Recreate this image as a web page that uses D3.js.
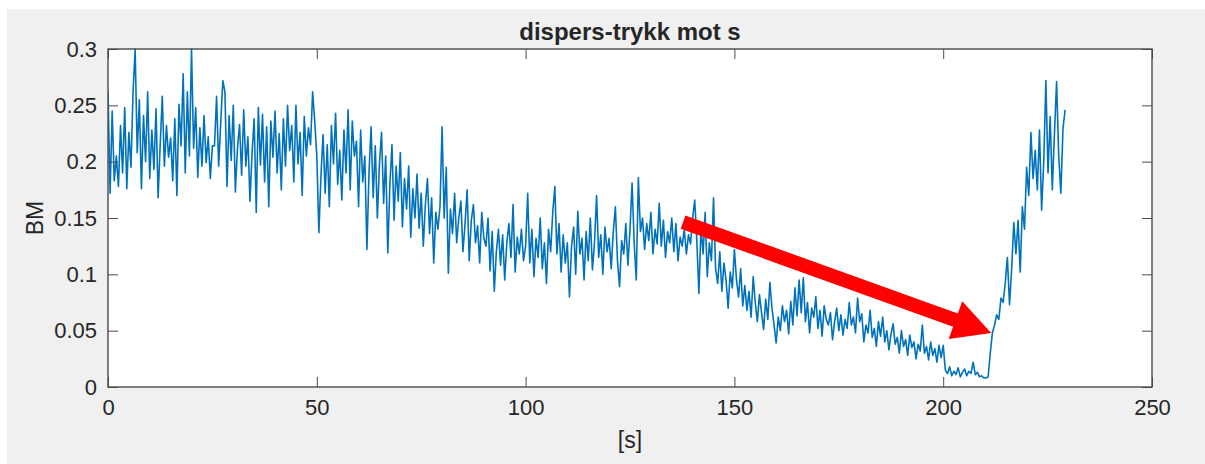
<!DOCTYPE html>
<html>
<head>
<meta charset="utf-8">
<script src="https://cdn.jsdelivr.net/npm/d3@7"></script>
<style>
	html, body { margin: 0; padding: 0; background: #ffffff; }
	svg { display: block; }
	text { font-family: "Liberation Sans", Arial, Helvetica, sans-serif; fill: #262626; }
</style>
</head>
<body>
<svg id="chart" width="1205" height="464"></svg>
<script>
/* ---------------- data ---------------- */

const xTicks = [0, 50, 100, 150, 200, 250];
const yTicks = [0, 0.05, 0.1, 0.15, 0.2, 0.25, 0.3];
const yTickLabels = ["0", "0.05", "0.1", "0.15", "0.2", "0.25", "0.3"];

// BM samples, one block per time span
const segStart = [0, 50, 100, 150, 200];
const segEnd = [49.5, 99.5, 149.5, 199.5, 229.2];

const bmA = [
	0.262,0.172,0.245,0.183,0.205,0.178,0.232,0.190,0.248,0.176,
	0.226,0.195,0.262,0.300,0.208,0.255,0.176,0.241,0.200,0.262,
	0.185,0.228,0.193,0.247,0.168,0.215,0.258,0.196,0.232,0.204,
	0.221,0.183,0.238,0.170,0.251,0.214,0.278,0.190,0.262,0.205,
	0.300,0.212,0.248,0.186,0.230,0.196,0.241,0.199,0.222,0.185,
	0.214,0.214,0.258,0.196,0.235,0.272,0.262,0.178,0.241,0.201,
	0.250,0.173,0.212,0.233,0.188,0.246,0.196,0.222,0.165,0.208,
	0.238,0.155,0.248,0.197,0.242,0.182,0.231,0.160,0.236,0.204,
	0.245,0.190,0.225,0.175,0.238,0.196,0.250,0.210,0.232,0.182,
	0.250,0.198,0.226,0.170,0.240,0.205,0.230,0.215,0.262,0.236
];
const bmB = [
	0.205,0.137,0.188,0.224,0.172,0.215,0.160,0.232,0.198,0.243,
	0.180,0.210,0.166,0.228,0.190,0.246,0.175,0.236,0.205,0.218,
	0.160,0.228,0.182,0.205,0.122,0.190,0.231,0.168,0.214,0.150,
	0.198,0.226,0.163,0.205,0.119,0.180,0.215,0.148,0.196,0.165,
	0.208,0.142,0.185,0.158,0.196,0.133,0.176,0.150,0.189,0.141,
	0.172,0.125,0.162,0.185,0.136,0.168,0.110,0.155,0.140,0.160,
	0.231,0.150,0.195,0.101,0.158,0.136,0.172,0.128,0.150,0.165,
	0.120,0.145,0.175,0.112,0.148,0.162,0.128,0.143,0.110,0.155,
	0.132,0.125,0.150,0.103,0.138,0.085,0.120,0.140,0.108,0.135,
	0.095,0.128,0.145,0.115,0.162,0.102,0.133,0.118,0.140,0.112
];
const bmC = [
	0.125,0.172,0.110,0.140,0.098,0.132,0.115,0.150,0.105,0.128,
	0.092,0.140,0.120,0.155,0.178,0.118,0.145,0.102,0.135,0.110,
	0.128,0.080,0.125,0.142,0.100,0.156,0.118,0.132,0.095,0.138,
	0.112,0.150,0.104,0.128,0.170,0.115,0.135,0.100,0.142,0.120,
	0.132,0.105,0.138,0.160,0.112,0.089,0.130,0.118,0.145,0.108,
	0.140,0.181,0.128,0.095,0.186,0.138,0.150,0.122,0.145,0.130,
	0.155,0.118,0.140,0.127,0.163,0.125,0.148,0.115,0.138,0.128,
	0.150,0.120,0.145,0.112,0.133,0.125,0.140,0.118,0.135,0.127,
	0.150,0.166,0.130,0.083,0.142,0.118,0.155,0.098,0.128,0.112,
	0.168,0.105,0.092,0.120,0.085,0.110,0.095,0.070,0.102,0.088
];
const bmD = [
	0.122,0.095,0.080,0.105,0.072,0.090,0.068,0.085,0.062,0.098,
	0.075,0.058,0.082,0.066,0.051,0.078,0.060,0.093,0.070,0.055,
	0.039,0.062,0.050,0.072,0.058,0.068,0.047,0.076,0.055,0.088,
	0.063,0.095,0.066,0.097,0.058,0.075,0.048,0.070,0.062,0.080,
	0.052,0.068,0.045,0.072,0.060,0.055,0.066,0.042,0.058,0.070,
	0.050,0.064,0.046,0.060,0.052,0.075,0.055,0.062,0.048,0.079,
	0.058,0.065,0.040,0.055,0.048,0.068,0.044,0.052,0.036,0.058,
	0.045,0.062,0.040,0.050,0.033,0.047,0.056,0.038,0.044,0.030,
	0.050,0.036,0.042,0.028,0.046,0.035,0.040,0.025,0.038,0.032,
	0.055,0.030,0.036,0.024,0.040,0.028,0.034,0.022,0.037,0.026
];
const bmE = [
	0.037,0.015,0.012,0.018,0.010,0.014,0.011,0.017,0.009,0.013,
	0.016,0.010,0.014,0.012,0.022,0.011,0.013,0.009,0.010,0.008,
	0.008,0.009,0.030,0.048,0.055,0.064,0.060,0.079,0.075,0.092,
	0.115,0.073,0.105,0.146,0.118,0.148,0.102,0.160,0.140,0.195,
	0.170,0.226,0.185,0.210,0.175,0.228,0.157,0.200,0.272,0.190,
	0.240,0.175,0.225,0.271,0.205,0.172,0.230,0.246
];
const segValues = [bmA, bmB, bmC, bmD, bmE];

// red arrow annotation, in data units
const arrowFrom = [137.7, 0.1464];
const arrowTo = [211.5, 0.048];

/* ---------------- layout ---------------- */

const svg = d3.select("#chart");
const plot = { left: 108, right: 1152, top: 49, bottom: 387 };

let x = d3.scaleLinear().domain([0, 250]).range([plot.left, plot.right]);
let y = d3.scaleLinear().domain([0, 0.3]).range([plot.bottom, plot.top]);

// figure background
svg.append("rect")
	.attr("x", 7).attr("y", 9)
	.attr("width", 1198).attr("height", 455)
	.attr("fill", "#f0f0f0");

// axes area
svg.append("rect")
	.attr("x", plot.left).attr("y", plot.top)
	.attr("width", plot.right - plot.left)
	.attr("height", plot.bottom - plot.top)
	.attr("fill", "#ffffff");

/* ---------------- series ---------------- */

let points = [];
segValues.forEach(function(vals, s){
	let step = (segEnd[s] - segStart[s]) / (vals.length - 1);
	vals.forEach(function(v, i){ points.push({ t: segStart[s] + i * step, v: v }); });
});

svg.append("clipPath").attr("id", "plotClip")
	.append("rect")
	.attr("x", plot.left).attr("y", plot.top - 1)
	.attr("width", plot.right - plot.left)
	.attr("height", plot.bottom - plot.top + 2);

svg.append("path")
	.datum(points)
	.attr("clip-path", "url(#plotClip)")
	.attr("fill", "none")
	.attr("stroke", "#0072bd")
	.attr("stroke-width", 1.6)
	.attr("stroke-linejoin", "round")
	.attr("d", d3.line().x(d => x(d.t)).y(d => y(d.v)));

/* ---------------- axes ---------------- */

const axisColor = "#4a4a4a";
const tickLen = 10;

function styleAxis(g){
	g.select(".domain").remove();
	g.selectAll(".tick line").attr("stroke", axisColor).attr("stroke-width", 1);
	g.selectAll(".tick text")
		.style("font-size", "22px")
		.attr("fill", "#262626");
}

svg.append("g")
	.attr("transform", "translate(0," + plot.bottom + ")")
	.call(d3.axisBottom(x).tickValues(xTicks).tickSize(-tickLen).tickPadding(12))
	.call(styleAxis);

svg.append("g")
	.attr("transform", "translate(0," + plot.top + ")")
	.call(d3.axisTop(x).tickValues(xTicks).tickSize(-tickLen).tickFormat(""))
	.call(styleAxis);

svg.append("g")
	.attr("transform", "translate(" + plot.left + ",0)")
	.call(d3.axisLeft(y).tickValues(yTicks).tickSize(-tickLen).tickPadding(11)
		.tickFormat((d, i) => yTickLabels[i]))
	.call(styleAxis);

svg.append("g")
	.attr("transform", "translate(" + plot.right + ",0)")
	.call(d3.axisRight(y).tickValues(yTicks).tickSize(-tickLen).tickFormat(""))
	.call(styleAxis);

// box
svg.append("rect")
	.attr("x", plot.left).attr("y", plot.top)
	.attr("width", plot.right - plot.left)
	.attr("height", plot.bottom - plot.top)
	.attr("fill", "none")
	.attr("stroke", axisColor)
	.attr("stroke-width", 1.4);

/* ---------------- labels ---------------- */

let midX = (plot.left + plot.right) / 2;

svg.append("text")
	.attr("x", midX).attr("y", 40)
	.attr("text-anchor", "middle")
	.style("font-size", "24px")
	.style("font-weight", "bold")
	.attr("fill", "#1a1a1a")
	.text("dispers-trykk mot s");

svg.append("text")
	.attr("x", midX).attr("y", 448)
	.attr("text-anchor", "middle")
	.style("font-size", "23px")
	.text("[s]");

svg.append("text")
	.attr("transform", "translate(43," + ((plot.top + plot.bottom) / 2) + ") rotate(-90)")
	.attr("text-anchor", "middle")
	.style("font-size", "23px")
	.text("BM");

/* ---------------- arrow ---------------- */

let ax0 = x(arrowFrom[0]), ay0 = y(arrowFrom[1]);
let ax1 = x(arrowTo[0]), ay1 = y(arrowTo[1]);
let len = Math.hypot(ax1 - ax0, ay1 - ay0);
let ang = Math.atan2(ay1 - ay0, ax1 - ax0) * 180 / Math.PI;
let shaftW = 14, headLen = 38, headW = 40;

svg.append("g")
	.attr("transform", "translate(" + ax0 + "," + ay0 + ") rotate(" + ang + ")")
	.append("path")
	.attr("fill", "#ff0000")
	.attr("d", d3.line()([
		[0, -shaftW / 2],
		[len - headLen, -shaftW / 2],
		[len - headLen, -headW / 2],
		[len, 0],
		[len - headLen, headW / 2],
		[len - headLen, shaftW / 2],
		[0, shaftW / 2]
	]) + "Z");
</script>
</body>
</html>
